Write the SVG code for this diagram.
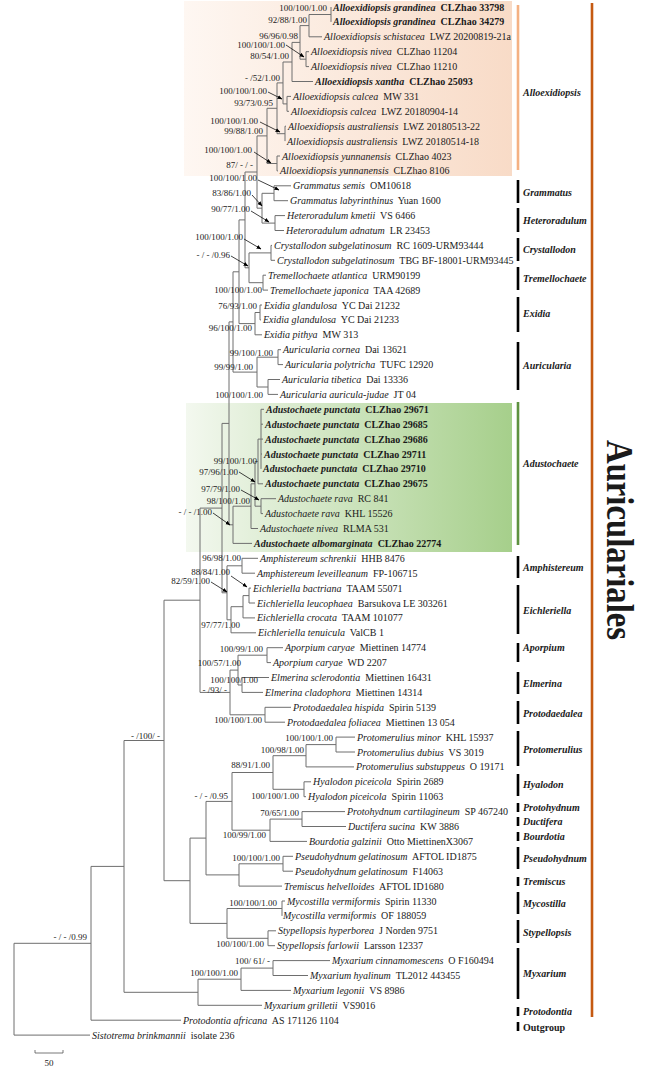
<svg xmlns="http://www.w3.org/2000/svg" width="656" height="1068" viewBox="0 0 656 1068">
<style>
text{font-family:"Liberation Serif","Times New Roman",serif;fill:#1a1a1a}
.t{font-size:10px}
.i{font-style:italic}
.b{font-weight:bold}
.s{font-size:9px;text-anchor:end}
.cl{font-size:10px;font-weight:bold;font-style:italic}
.br{stroke:#6e6e6e;stroke-width:1;fill:none}
.ar{stroke:#111;stroke-width:0.8;fill:none;marker-end:url(#ah)}
.bar{stroke:#000;stroke-width:2.6}
</style>
<defs>
<linearGradient id="gp" x1="0" y1="0" x2="1" y2="0"><stop offset="0" stop-color="#fef7f2"/><stop offset="1" stop-color="#f8dbc7"/></linearGradient>
<linearGradient id="gg" x1="0" y1="0" x2="1" y2="0"><stop offset="0" stop-color="#f3f8ef"/><stop offset="1" stop-color="#a6cf8b"/></linearGradient>
<marker id="ah" markerWidth="5" markerHeight="5" refX="4.5" refY="2.5" orient="auto" markerUnits="userSpaceOnUse"><path d="M0,0.5 L5,2.5 L0,4.5z" fill="#000"/></marker>
</defs>
<rect width="656" height="1068" fill="#fff"/>
<g id="bg">
<rect x="184" y="1" width="328" height="175" fill="url(#gp)"/>
<rect x="186" y="403" width="326" height="149" fill="url(#gg)"/>
</g>
<g id="connectors">
<path class="br" d="M331 7V21.9
M309 14.5V36.8M309 14.5H331M309 36.8H322
M306 51.7V66.6M306 51.7H309M306 66.6H309
M300 25.6V59.2M300 25.6H309M300 59.2H306
M292 42.4V81.5M292 42.4H300M292 81.5H313
M287 96.4V111.3M287 96.4H291M287 111.3H289
M283 62V103.9M283 62H292M283 103.9H287
M285 126.2V141.1M285 126.2H286
M277 82.9V133.7M277 82.9H283M277 133.7H285
M277 156V170.9M277 156H280M277 170.9H278
M267 108.3V163.5M267 108.3H277M267 163.5H277
M274 185.8V200.7M274 185.8H291M274 200.7H288
M275 215.6V230.5M275 215.6H285M275 230.5H284
M262 193.3V223.1M262 193.3H274M262 223.1H275
M257 135.9V208.2M257 135.9H267M257 208.2H262
M271 245.4V260.3M271 245.4H272M271 260.3H275
M263 275.2V290.1M263 275.2H266M263 290.1H268
M249 252.9V282.7M249 252.9H271M249 282.7H263
M245 172V267.8M245 172H257M245 267.8H249
M260 305V319.9M260 305H262M260 319.9H261
M255 312.5V334.8M255 312.5H260M255 334.8H262
M239 219.9V323.6M239 219.9H245M239 323.6H255
M278 349.7V364.6M278 349.7H281M278 364.6H283
M268 379.5V394.4M268 379.5H280M268 394.4H278
M257 357.2V387M257 357.2H278M257 387H268
M233 271.8V372.1M233 271.8H239M233 372.1H257
M261 409.3V468.9M261 409.3H264M261 424.2H263M261 439.1H263M261 454H262
M258 439.1V483.8M258 439.1H261M258 483.8H263
M261 498.7V513.6M261 498.7H276M261 513.6H263
M255 461.5V506.2M255 461.5H258M255 506.2H261
M251 483.8V528.5M251 483.8H255M251 528.5H258
M233 506.2V543.4M233 506.2H251M233 543.4H252
M229 321.9V524.8M229 321.9H233M229 524.8H233
M242 558.3V573.2M242 558.3H258M242 573.2H255
M249 588.1V603M249 588.1H251M249 603H255
M243 595.6V617.9M243 595.6H249M243 617.9H255
M231 606.7V632.8M231 606.7H243M231 632.8H256
M227 565.8V619.8M227 565.8H242M227 619.8H231
M222 423.4V592.8M222 423.4H229M222 592.8H227
M267 647.7V662.6M267 647.7H283M267 662.6H271
M242 677.5V692.4M242 677.5H269M242 692.4H263
M238 655.2V685M238 655.2H267M238 685H242
M265 707.3V722.2M265 707.3H291M265 722.2H285
M230 670.1V714.8M230 670.1H238M230 714.8H265
M200 508.1V692.4M200 508.1H222M200 692.4H230
M336 737.1V752M336 737.1H355M336 752H355
M306 744.6V766.9M306 744.6H336M306 766.9H354
M304 781.8V796.7M304 781.8H311M304 796.7H306
M273 755.7V789.3M273 755.7H306M273 789.3H304
M302 811.6V826.5M302 811.6H345M302 826.5H346
M270 819.1V841.4M270 819.1H302M270 841.4H307
M232 772.5V830.2M232 772.5H273M232 830.2H270
M283 856.3V871.2M283 856.3H293M283 871.2H293
M239 863.8V886.1M239 863.8H283M239 886.1H282
M206 801.4V874.9M206 801.4H232M206 874.9H239
M282 901V915.9M282 901H285
M268 930.8V945.7M268 930.8H276M268 945.7H275
M227 908.5V938.3M227 908.5H282M227 938.3H268
M190 838.1V923.4M190 838.1H206M190 923.4H227
M164 600.2V880.7M164 600.2H200M164 880.7H190
M273 960.6V975.5M273 960.6H330M273 975.5H308
M241 968.1V990.4M241 968.1H273M241 990.4H291
M198 979.2V1005.3M198 979.2H241M198 1005.3H262
M124 740.5V992.3M124 740.5H164M124 992.3H198
M91 866.4V1020.2M91 866.4H124M91 1020.2H181
M14 943.3V1035.1M14 943.3H91M14 1035.1H90"/>
<path class="ar" d="M286 45L304 57"/>
<path class="ar" d="M268 92L282 99"/>
<path class="ar" d="M260 122L280 132"/>
<path class="ar" d="M254 152L271 163"/>
<path class="ar" d="M258 180L279 190"/>
<path class="ar" d="M252 195L262 206"/>
<path class="ar" d="M251 211L269 222"/>
<path class="ar" d="M244 239L261 249"/>
<path class="ar" d="M231 256L248 266"/>
<path class="ar" d="M239 472L255 482"/>
<path class="ar" d="M241 490L259 500"/>
<path class="ar" d="M213 513L230 525"/>
<path class="ar" d="M231 576L247 587"/>
<path class="ar" d="M211 582L227 592"/>
</g>
<g id="leaves" class="t">
<g id="L01"><text class="b" x="333" y="10.5"><tspan class="i">Alloexidiopsis grandinea</tspan> <tspan dx="2.5">CLZhao 33798</tspan></text></g>
<g id="L02"><text class="b" x="333" y="25.4"><tspan class="i">Alloexidiopsis  grandinea</tspan> <tspan dx="2.5">CLZhao 34279</tspan></text></g>
<g id="L03"><text x="324" y="40.3"><tspan class="i">Alloexidiopsis schistacea</tspan> <tspan dx="2.5">LWZ 20200819-21a</tspan></text></g>
<g id="L04"><text x="311" y="55.2"><tspan class="i">Alloexidiopsis nivea</tspan> <tspan dx="2.5">CLZhao 11204</tspan></text></g>
<g id="L05"><text x="311" y="70.1"><tspan class="i">Alloexidiopsis nivea</tspan> <tspan dx="2.5">CLZhao 11210</tspan></text></g>
<g id="L06"><text class="b" x="315" y="85"><tspan class="i">Alloexidiopsis xantha</tspan> <tspan dx="2.5">CLZhao 25093</tspan></text></g>
<g id="L07"><text x="293" y="99.9"><tspan class="i">Alloexidiopsis calcea</tspan> <tspan dx="2.5">MW 331</tspan></text></g>
<g id="L08"><text x="291" y="114.8"><tspan class="i">Alloexidiopsis calcea</tspan> <tspan dx="2.5">LWZ 20180904-14</tspan></text></g>
<g id="L09"><text x="288" y="129.7"><tspan class="i">Alloexidiopsis australiensis</tspan> <tspan dx="2.5">LWZ 20180513-22</tspan></text></g>
<g id="L10"><text x="287" y="144.6"><tspan class="i">Alloexidiopsis australiensis</tspan> <tspan dx="2.5">LWZ 20180514-18</tspan></text></g>
<g id="L11"><text x="282" y="159.5"><tspan class="i">Alloexidiopsis yunnanensis</tspan> <tspan dx="2.5">CLZhao 4023</tspan></text></g>
<g id="L12"><text x="280" y="174.4"><tspan class="i">Alloexidiopsis yunnanensis</tspan> <tspan dx="2.5">CLZhao 8106</tspan></text></g>
<g id="L13"><text x="293" y="189.3"><tspan class="i">Grammatus semis</tspan> <tspan dx="2.5">OM10618</tspan></text></g>
<g id="L14"><text x="290" y="204.2"><tspan class="i">Grammatus labyrinthinus</tspan> <tspan dx="2.5">Yuan 1600</tspan></text></g>
<g id="L15"><text x="287" y="219.1"><tspan class="i">Heteroradulum kmetii</tspan> <tspan dx="2.5">VS 6466</tspan></text></g>
<g id="L16"><text x="286" y="234"><tspan class="i">Heteroradulum adnatum</tspan> <tspan dx="2.5">LR 23453</tspan></text></g>
<g id="L17"><text x="274" y="248.9"><tspan class="i">Crystallodon subgelatinosum</tspan> <tspan dx="2.5">RC 1609-URM93444</tspan></text></g>
<g id="L18"><text x="277" y="263.8"><tspan class="i">Crystallodon subgelatinosum</tspan> <tspan dx="2.5">TBG BF-18001-URM93445</tspan></text></g>
<g id="L19"><text x="268" y="278.7"><tspan class="i">Tremellochaete atlantica</tspan> <tspan dx="2.5">URM90199</tspan></text></g>
<g id="L20"><text x="270" y="293.6"><tspan class="i">Tremellochaete japonica</tspan> <tspan dx="2.5">TAA 42689</tspan></text></g>
<g id="L21"><text x="264" y="308.5"><tspan class="i">Exidia glandulosa</tspan> <tspan dx="2.5">YC Dai 21232</tspan></text></g>
<g id="L22"><text x="263" y="323.4"><tspan class="i">Exidia glandulosa</tspan> <tspan dx="2.5">YC Dai 21233</tspan></text></g>
<g id="L23"><text x="264" y="338.3"><tspan class="i">Exidia pithya</tspan> <tspan dx="2.5">MW 313</tspan></text></g>
<g id="L24"><text x="283" y="353.2"><tspan class="i">Auricularia cornea</tspan> <tspan dx="2.5">Dai 13621</tspan></text></g>
<g id="L25"><text x="285" y="368.1"><tspan class="i">Auricularia polytricha</tspan> <tspan dx="2.5">TUFC 12920</tspan></text></g>
<g id="L26"><text x="282" y="383"><tspan class="i">Auricularia tibetica</tspan> <tspan dx="2.5">Dai 13336</tspan></text></g>
<g id="L27"><text x="280" y="397.9"><tspan class="i">Auricularia auricula-judae</tspan> <tspan dx="2.5">JT 04</tspan></text></g>
<g id="L28"><text class="b" x="266" y="412.8"><tspan class="i">Adustochaete punctata</tspan> <tspan dx="2.5">CLZhao 29671</tspan></text></g>
<g id="L29"><text class="b" x="265" y="427.7"><tspan class="i">Adustochaete punctata</tspan> <tspan dx="2.5">CLZhao 29685</tspan></text></g>
<g id="L30"><text class="b" x="265" y="442.6"><tspan class="i">Adustochaete punctata</tspan> <tspan dx="2.5">CLZhao 29686</tspan></text></g>
<g id="L31"><text class="b" x="264" y="457.5"><tspan class="i">Adustochaete punctata</tspan> <tspan dx="2.5">CLZhao 29711</tspan></text></g>
<g id="L32"><text class="b" x="263" y="472.4"><tspan class="i">Adustochaete punctata</tspan> <tspan dx="2.5">CLZhao 29710</tspan></text></g>
<g id="L33"><text class="b" x="265" y="487.3"><tspan class="i">Adustochaete punctata</tspan> <tspan dx="2.5">CLZhao 29675</tspan></text></g>
<g id="L34"><text x="278" y="502.2"><tspan class="i">Adustochaete rava</tspan> <tspan dx="2.5">RC 841</tspan></text></g>
<g id="L35"><text x="265" y="517.1"><tspan class="i">Adustochaete rava</tspan> <tspan dx="2.5">KHL 15526</tspan></text></g>
<g id="L36"><text x="260" y="532"><tspan class="i">Adustochaete nivea</tspan> <tspan dx="2.5">RLMA 531</tspan></text></g>
<g id="L37"><text class="b" x="254" y="546.9"><tspan class="i">Adustochaete albomarginata</tspan> <tspan dx="2.5">CLZhao 22774</tspan></text></g>
<g id="L38"><text x="260" y="561.8"><tspan class="i">Amphistereum schrenkii</tspan> <tspan dx="2.5">HHB 8476</tspan></text></g>
<g id="L39"><text x="257" y="576.7"><tspan class="i">Amphistereum leveilleanum</tspan> <tspan dx="2.5">FP-106715</tspan></text></g>
<g id="L40"><text x="253" y="591.6"><tspan class="i">Eichleriella bactriana</tspan> <tspan dx="2.5">TAAM 55071</tspan></text></g>
<g id="L41"><text x="257" y="606.5"><tspan class="i">Eichleriella leucophaea</tspan> <tspan dx="2.5">Barsukova LE 303261</tspan></text></g>
<g id="L42"><text x="257" y="621.4"><tspan class="i">Eichleriella crocata</tspan> <tspan dx="2.5">TAAM 101077</tspan></text></g>
<g id="L43"><text x="258" y="636.3"><tspan class="i">Eichleriella tenuicula</tspan> <tspan dx="2.5">ValCB 1</tspan></text></g>
<g id="L44"><text x="285" y="651.2"><tspan class="i">Aporpium caryae</tspan> <tspan dx="2.5">Miettinen 14774</tspan></text></g>
<g id="L45"><text x="273" y="666.1"><tspan class="i">Aporpium caryae</tspan> <tspan dx="2.5">WD 2207</tspan></text></g>
<g id="L46"><text x="271" y="681"><tspan class="i">Elmerina sclerodontia</tspan> <tspan dx="2.5">Miettinen 16431</tspan></text></g>
<g id="L47"><text x="265" y="695.9"><tspan class="i">Elmerina cladophora</tspan> <tspan dx="2.5">Miettinen 14314</tspan></text></g>
<g id="L48"><text x="293" y="710.8"><tspan class="i">Protodaedalea hispida</tspan> <tspan dx="2.5">Spirin 5139</tspan></text></g>
<g id="L49"><text x="287" y="725.7"><tspan class="i">Protodaedalea foliacea</tspan> <tspan dx="2.5">Miettinen 13 054</tspan></text></g>
<g id="L50"><text x="357" y="740.6"><tspan class="i">Protomerulius minor</tspan> <tspan dx="2.5">KHL 15937</tspan></text></g>
<g id="L51"><text x="357" y="755.5"><tspan class="i">Protomerulius dubius</tspan> <tspan dx="2.5">VS 3019</tspan></text></g>
<g id="L52"><text x="356" y="770.4"><tspan class="i">Protomerulius substuppeus</tspan> <tspan dx="2.5">O 19171</tspan></text></g>
<g id="L53"><text x="313" y="785.3"><tspan class="i">Hyalodon piceicola</tspan> <tspan dx="2.5">Spirin 2689</tspan></text></g>
<g id="L54"><text x="308" y="800.2"><tspan class="i">Hyalodon piceicola</tspan> <tspan dx="2.5">Spirin 11063</tspan></text></g>
<g id="L55"><text x="347" y="815.1"><tspan class="i">Protohydnum cartilagineum</tspan> <tspan dx="2.5">SP 467240</tspan></text></g>
<g id="L56"><text x="348" y="830"><tspan class="i">Ductifera sucina</tspan> <tspan dx="2.5">KW 3886</tspan></text></g>
<g id="L57"><text x="309" y="844.9"><tspan class="i">Bourdotia galzinii</tspan> <tspan dx="2.5">Otto MiettinenX3067</tspan></text></g>
<g id="L58"><text x="295" y="859.8"><tspan class="i">Pseudohydnum gelatinosum</tspan> <tspan dx="2.5">AFTOL ID1875</tspan></text></g>
<g id="L59"><text x="295" y="874.7"><tspan class="i">Pseudohydnum gelatinosum</tspan> <tspan dx="2.5">F14063</tspan></text></g>
<g id="L60"><text x="284" y="889.6"><tspan class="i">Tremiscus helvelloides</tspan> <tspan dx="2.5">AFTOL ID1680</tspan></text></g>
<g id="L61"><text x="287" y="904.5"><tspan class="i">Mycostilla vermiformis</tspan> <tspan dx="2.5">Spirin 11330</tspan></text></g>
<g id="L62"><text x="283" y="919.4"><tspan class="i">Mycostilla vermiformis</tspan> <tspan dx="2.5">OF 188059</tspan></text></g>
<g id="L63"><text x="278" y="934.3"><tspan class="i">Stypellopsis hyperborea</tspan> <tspan dx="2.5">J Norden 9751</tspan></text></g>
<g id="L64"><text x="277" y="949.2"><tspan class="i">Stypellopsis farlowii</tspan> <tspan dx="2.5">Larsson 12337</tspan></text></g>
<g id="L65"><text x="332" y="964.1"><tspan class="i">Myxarium cinnamomescens</tspan> <tspan dx="2.5">O F160494</tspan></text></g>
<g id="L66"><text x="310" y="979"><tspan class="i">Myxarium hyalinum</tspan> <tspan dx="2.5">TL2012 443455</tspan></text></g>
<g id="L67"><text x="293" y="993.9"><tspan class="i">Myxarium legonii</tspan> <tspan dx="2.5">VS 8986</tspan></text></g>
<g id="L68"><text x="264" y="1008.8"><tspan class="i">Myxarium grilletii</tspan> <tspan dx="2.5">VS9016</tspan></text></g>
<g id="L69"><text x="183" y="1023.7"><tspan class="i">Protodontia africana</tspan> <tspan dx="2.5">AS 171126 1104</tspan></text></g>
<g id="L70"><text x="92" y="1038.6"><tspan class="i">Sistotrema brinkmannii</tspan> <tspan dx="2.5">isolate 236</tspan></text></g>
</g>
<g id="support">
<text class="s" x="327" y="11">100/100/1.00</text>
<text class="s" x="307" y="23">92/88/1.00</text>
<text class="s" x="298" y="38.5">96/96/0.98</text>
<text class="s" x="285" y="48">100/100/1.00</text>
<text class="s" x="289" y="58.5">80/54/1.00</text>
<text class="s" x="280" y="81">- /52/1.00</text>
<text class="s" x="267" y="94">100/100/1.00</text>
<text class="s" x="273" y="106">93/73/0.95</text>
<text class="s" x="258" y="124">100/100/1.00</text>
<text class="s" x="263" y="133.5">99/88/1.00</text>
<text class="s" x="252" y="153">100/100/1.00</text>
<text class="s" x="253" y="168">87/ - / -</text>
<text class="s" x="257" y="181">100/100/1.00</text>
<text class="s" x="251" y="196">83/86/1.00</text>
<text class="s" x="250" y="212">90/77/1.00</text>
<text class="s" x="243" y="240">100/100/1.00</text>
<text class="s" x="230" y="258">- / - /0.96</text>
<text class="s" x="262" y="293">100/100/1.00</text>
<text class="s" x="257" y="309">76/93/1.00</text>
<text class="s" x="252" y="331">96/100/1.00</text>
<text class="s" x="273" y="356">99/100/1.00</text>
<text class="s" x="253" y="370">99/99/1.00</text>
<text class="s" x="263" y="398">100/100/1.00</text>
<text class="s" x="257" y="464">99/100/1.00</text>
<text class="s" x="238" y="475">97/96/1.00</text>
<text class="s" x="240" y="492">97/79/1.00</text>
<text class="s" x="250" y="504">98/100/1.00</text>
<text class="s" x="212" y="515">- / - /1.00</text>
<text class="s" x="241" y="561">96/98/1.00</text>
<text class="s" x="230" y="575">88/84/1.00</text>
<text class="s" x="210" y="584">82/59/1.00</text>
<text class="s" x="240" y="628">97/77/1.00</text>
<text class="s" x="263" y="652">100/99/1.00</text>
<text class="s" x="241" y="666">100/57/1.00</text>
<text class="s" x="258" y="683">100/100/1.00</text>
<text class="s" x="227" y="693">- /93/ -</text>
<text class="s" x="262" y="723">100/100/1.00</text>
<text class="s" x="160" y="739">- /100/ -</text>
<text class="s" x="333" y="741">100/100/1.00</text>
<text class="s" x="304" y="753">100/98/1.00</text>
<text class="s" x="270" y="768">88/91/1.00</text>
<text class="s" x="228" y="799">- / - /0.95</text>
<text class="s" x="299" y="799">100/100/1.00</text>
<text class="s" x="299" y="816">70/65/1.00</text>
<text class="s" x="266" y="838">100/99/1.00</text>
<text class="s" x="280" y="861">100/100/1.00</text>
<text class="s" x="277" y="906">100/100/1.00</text>
<text class="s" x="264" y="947">100/100/1.00</text>
<text class="s" x="270" y="964">100/ 61/ -</text>
<text class="s" x="238" y="976">100/100/1.00</text>
<text class="s" x="87" y="940">- / - /0.99</text>
</g>
<g id="scale">
<path d="M35 1050V1053H63V1050" stroke="#555" stroke-width="0.8" fill="none"/>
<text x="49" y="1066" font-size="9" text-anchor="middle">50</text>
</g>
<g id="clades">
<line x1="518" y1="5" x2="518" y2="170" stroke="#f4b183" stroke-width="2.6"/>
<line x1="518" y1="402" x2="518" y2="545" stroke="#5e9140" stroke-width="2.6"/>
<path class="bar" d="M518 180V203M518 208V232M518 238V261M518 267V290M518 297V332M518 342V390M518 556V578M518 585V634M518 643V662M518 672V694M518 701V724M518 731V766M518 774V796M518 803V812M518 817V826M518 832V841M518 847V869M518 877V886M518 892V914M518 920V943M518 948V999M518 1007V1016M518 1022V1031"/>
<text class="cl" x="523" y="95.5">Alloexidiopsis</text>
<text class="cl" x="523" y="195.5">Grammatus</text>
<text class="cl" x="523" y="223.5">Heteroradulum</text>
<text class="cl" x="523" y="252.5">Crystallodon</text>
<text class="cl" x="523" y="281.5">Tremellochaete</text>
<text class="cl" x="523" y="316.5">Exidia</text>
<text class="cl" x="523" y="368.5">Auricularia</text>
<text class="cl" x="523" y="466.5">Adustochaete</text>
<text class="cl" x="523" y="570.5">Amphistereum</text>
<text class="cl" x="523" y="613.5">Eichleriella</text>
<text class="cl" x="523" y="650.5">Aporpium</text>
<text class="cl" x="523" y="686.5">Elmerina</text>
<text class="cl" x="523" y="716.5">Protodaedalea</text>
<text class="cl" x="523" y="752.5">Protomerulius</text>
<text class="cl" x="523" y="787.5">Hyalodon</text>
<text class="cl" x="523" y="810.5">Protohydnum</text>
<text class="cl" x="523" y="824.5">Ductifera</text>
<text class="cl" x="523" y="839.5">Bourdotia</text>
<text class="cl" x="523" y="861.5">Pseudohydnum</text>
<text class="cl" x="523" y="884.5">Tremiscus</text>
<text class="cl" x="523" y="906.5">Mycostilla</text>
<text class="cl" x="523" y="935.5">Stypellopsis</text>
<text class="cl" x="523" y="976.5">Myxarium</text>
<text class="cl" x="523" y="1014.5">Protodontia</text>
<text x="523" y="1030.5" font-size="10" font-weight="bold">Outgroup</text>
</g>
<g id="order">
<line x1="592" y1="3" x2="592" y2="1017" stroke="#c55a11" stroke-width="2.6"/>
<text transform="translate(607,440) rotate(90)" font-size="38" font-weight="bold" textLength="200" lengthAdjust="spacingAndGlyphs">Auriculariales</text>
</g>
</svg>
